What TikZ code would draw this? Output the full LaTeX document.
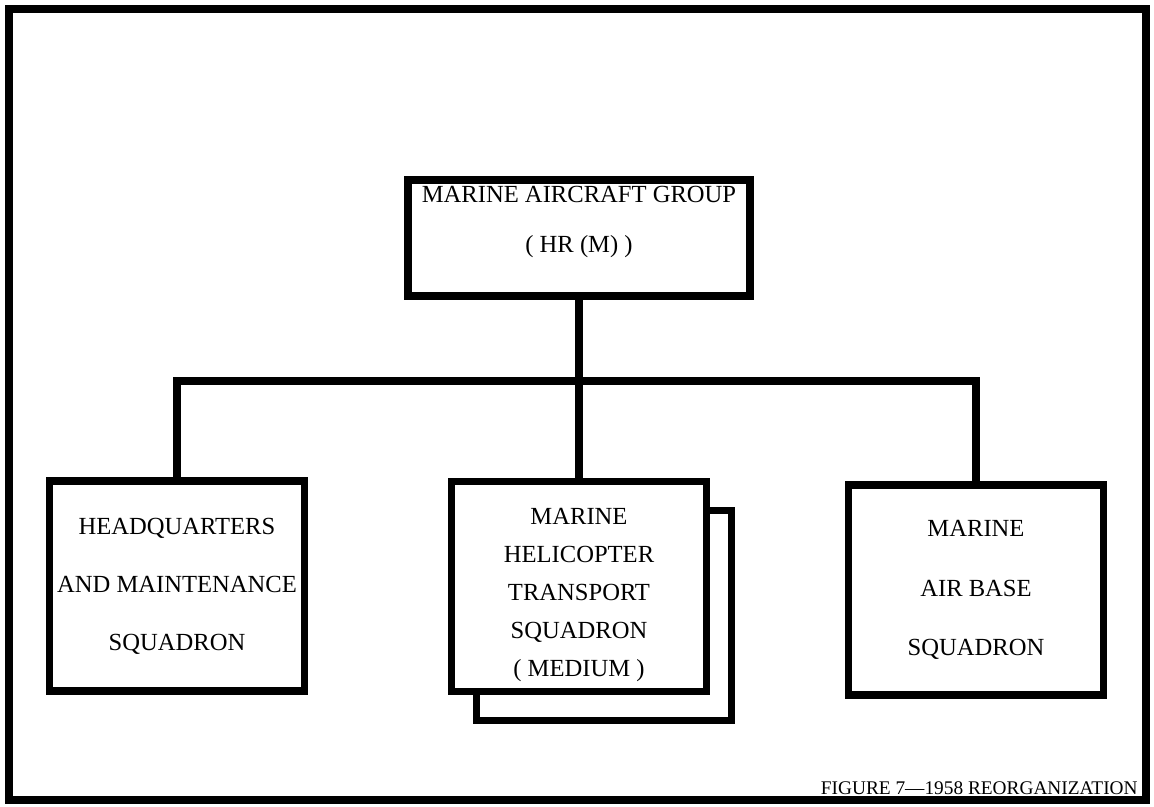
\documentclass[tikz,border=0pt]{standalone}
\usepackage{fontspec}
\setmainfont{Liberation Serif}
\usepackage{tikz}
\usetikzlibrary{positioning}

\begin{document}
\begin{tikzpicture}[x=0.02cm,y=-0.02cm]
% définition des paramètres
\tikzstyle cadremarine=[color=black,line width=4.5pt]
\tikzstyle liaisonmarine=[color=black,line width=4pt]
\tikzstyle boitemarine=[draw=black,line width=4.5pt,fill=white,inner sep=0pt,align=center,minimum width=\largboite,minimum height=\hautboite]
\tikzstyle boitegroupe=[boitemarine,minimum width=6.84cm,minimum height=2.32cm]
\tikzstyle textemarine=[inner sep=0pt,align=center]
\newcommand{\largboite}{5.1cm} % "largeur" des escadrons
\newcommand{\hautboite}{4.2cm} % "hauteur" des escadrons
\newcommand{\ombrex}{25} % décalage de l'ombre en x
\newcommand{\ombrey}{29} % décalage de l'ombre en y
\useasboundingbox (0,0) rectangle (1154,807);
% le cadre
\draw [cadremarine] (9,9) rectangle (1146,800);
% le groupe
\node [boitegroupe] (groupe) at (579,238) {};
\node [textemarine,font=\fontsize{14}{28.4}\selectfont] (groupelib) at (579,222) {MARINE AIRCRAFT GROUP\\( HR (M) )};
% les escadrons
\node [boitemarine,font=\fontsize{14}{33}\selectfont] (qg) at (177,586) {HEADQUARTERS\\AND MAINTENANCE\\SQUADRON};
\node [boitemarine,shift={(\ombrex,\ombrey)}] (heliombre) at (579,586.5) {};
\node [boitemarine] (helico) at (579,586.5) {};
\node [textemarine,font=\fontsize{14}{21.5}\selectfont] (helicolib) at (579,595) {MARINE\\HELICOPTER\\TRANSPORT\\SQUADRON\\( MEDIUM )};
\node [boitemarine,font=\fontsize{14}{34}\selectfont] (base) at (976,590) {MARINE\\AIR BASE\\SQUADRON};
% les liaisons
\coordinate (jonction) at (579,381);
\draw [liaisonmarine] (groupe.south) -- (jonction);
\draw [liaisonmarine] (qg.north) |- (jonction) -| (base.north);
\draw [liaisonmarine] (jonction) -- (helico.north);
% la légende
\node [textemarine,anchor=base east,font=\fontsize{11}{13}\selectfont] (legende) at (1138,794) {FIGURE 7---1958 REORGANIZATION};
\end{tikzpicture}
\end{document}
